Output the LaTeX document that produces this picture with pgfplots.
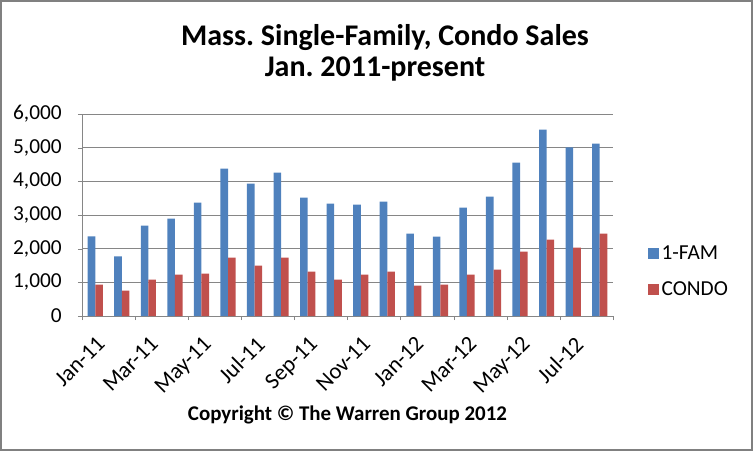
\documentclass[border=0pt]{standalone}
\usepackage{fontspec}
\setmainfont{Carlito}
\usepackage{pgfplots}
\pgfplotsset{compat=1.18}
\definecolor{famblue}{HTML}{4F81BD}
\definecolor{condored}{HTML}{C0504D}
\definecolor{gridgray}{HTML}{868686}
\definecolor{bordergray}{HTML}{808080}
\begin{document}
\begin{tikzpicture}[x=0.75pt,y=0.75pt]
\useasboundingbox (0,0) rectangle (753,451);
\draw[bordergray, line width=1.5pt] (1,1) rectangle (752,450);
\node[anchor=base, font=\fontsize{22.5}{27}\selectfont\bfseries] at (385,405) {Mass.\ Single-Family, Condo Sales};
\node[anchor=base, font=\fontsize{22.5}{27}\selectfont\bfseries] at (375,374) {Jan.\ 2011-present};
\node[anchor=base, font=\fontsize{15.7}{19}\selectfont\bfseries] at (347.5,31) {Copyright © The Warren Group 2012};
\begin{axis}[
  at={(61.5pt,101.25pt)}, anchor=south west,
  scale only axis, width=398.25pt, height=151.5pt,
  xmin=-0.5, xmax=19.5, ymin=0, ymax=6000,
  ybar, bar width=0.286,
  axis lines=left, axis line style={-, gridgray},
  tick align=outside,
  major tick length=3pt, minor tick length=3pt,
  xtick={0,2,...,18},
  xticklabels={Jan-11,Mar-11,May-11,Jul-11,Sep-11,Nov-11,Jan-12,Mar-12,May-12,Jul-12},
  minor xtick={-0.5,1.5,...,19.5},
  major x tick style={draw=none},
  minor x tick style={gridgray},
  ytick={0,1000,...,6000},
  y tick style={gridgray},
  ymajorgrids, major grid style={gridgray},
  /pgf/number format/assume math mode=true,
  /pgf/number format/1000 sep={,},
  scaled y ticks=false,
  tick label style={font=\fontsize{16}{19}\selectfont},
  yticklabel style={inner sep=0pt, anchor=east, xshift=-12pt},
  xticklabel style={font=\fontsize{17}{20}\selectfont, rotate=45, anchor=north east, inner sep=0pt, xshift=-7.5pt, yshift=-8pt},
  legend style={at={(1,0.22)}, anchor=west, xshift=26pt, draw=none, fill=none,
    font=\fontsize{16}{19}\selectfont, row sep=11pt, inner sep=0pt,
    nodes={inner sep=2pt}},
  legend cell align=left,
  legend image code/.code={\fill[#1] (0pt,-4.1pt) rectangle (8.25pt,4.1pt);},
  legend style={/tikz/every even column/.append style={column sep=3.5pt}},
]
\addplot[fill=famblue, draw=none, bar shift=-0.143] coordinates {
(0,2366) (1,1772) (2,2683) (3,2891) (4,3366) (5,4376) (6,3931) (7,4257) (8,3515) (9,3337)
(10,3307) (11,3396) (12,2446) (13,2356) (14,3218) (15,3545) (16,4554) (17,5535) (18,5010) (19,5119)};
\addplot[fill=condored, draw=none, bar shift=0.143] coordinates {
(0,930) (1,752) (2,1079) (3,1228) (4,1257) (5,1733) (6,1495) (7,1733) (8,1317) (9,1079)
(10,1228) (11,1317) (12,901) (13,930) (14,1228) (15,1376) (16,1911) (17,2267) (18,2030) (19,2446)};
\legend{1-FAM, CONDO}
\end{axis}
\end{tikzpicture}
\end{document}
